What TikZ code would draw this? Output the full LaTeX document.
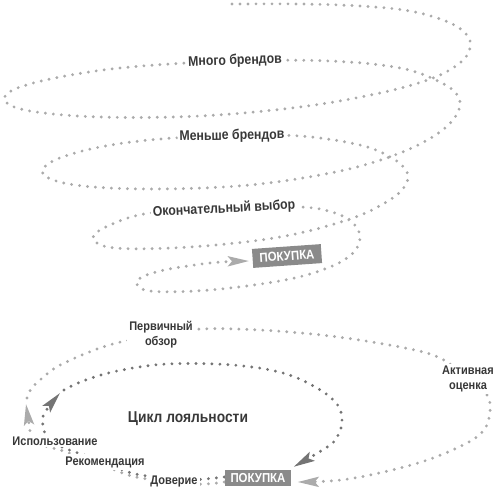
\documentclass[tikz,border=0pt]{standalone}
\usepackage{fontspec}
\setmainfont{Liberation Sans}[FakeStretch=0.88]
\usetikzlibrary{arrows.meta}
\pgfdeclarelayer{bg}
\pgfsetlayers{bg,main}
\definecolor{lightdot}{HTML}{ABABAB}
\definecolor{darkdot}{HTML}{747474}
\definecolor{txt}{HTML}{383838}
\definecolor{boxgray}{HTML}{8A8A8A}
\tikzset{
  dots/.style={line width=3.2pt, line cap=round, dash pattern=on 0pt off 8pt},
  tipL/.style={-{Stealth[length=21pt,width=10pt,inset=4pt,fill=lightdot,color=lightdot]}},
  tipD/.style={-{Stealth[length=21pt,width=10pt,inset=4pt,fill=darkdot,color=darkdot]}},
  lbl/.style={fill=white, inner sep=2pt, text=txt, align=center,
    font=\bfseries\fontsize{12.5}{15}\selectfont},
  biglbl/.style={lbl, font=\bfseries\fontsize{14}{16}\selectfont},
  buy/.style={fill=boxgray, text=white, inner xsep=6pt, inner ysep=0pt,
    minimum height=16pt, font=\bfseries\fontsize{13}{14}\selectfont},
}
\begin{document}
\begin{tikzpicture}[x=1pt,y=-1pt]
\useasboundingbox (0,0) rectangle (500,491);
% top spiral labels
\node[biglbl, rotate=2] (m1) at (235,61) {Много брендов};
\node[biglbl, rotate=1] (m2) at (232,136) {Меньше брендов};
\node[biglbl, rotate=3] (m3) at (224,209) {Окончательный выбор};
\node[buy, rotate=4, minimum height=19pt, inner xsep=7pt] (p1) at (287,256) {ПОКУПКА};
% bottom labels
\node[lbl] (ob) at (161,335) {Первичный\\обзор};
\node[lbl] (ak) at (468,379) {Активная\\оценка};
\node[lbl] (is) at (55,441) {Использование};
\node[lbl] (rk) at (105,462) {Рекомендация};
\node[lbl] (dv) at (174,481) {Доверие};
\node[text=txt, font=\bfseries\fontsize{15.7}{18}\selectfont] (cl) at (188,419) {Цикл лояльности};
\node[buy] (p2) at (258,478) {ПОКУПКА};
\coordinate (s0) at (232,4);
\coordinate (t1) at (249,261);
\begin{pgfonlayer}{bg}
\draw[dots, lightdot, tipL] plot[smooth, tension=0.6] coordinates {
 (s0) (300,4) (360,6) (410,11) (448,22) (467,35) (470,48) (461,62) (433,78)
 (380,93) (300,107) (200,116) (100,117) (30,111) (5,101) (15,89) (60,77) (130,67)
 (m1.center) (330,61) (400,68) (440,82) (458,96) (458,112) (440,132) (400,153)
 (340,171) (250,185) (150,189) (75,185) (43,174) (55,160) (100,147) (160,139)
 (m2.center) (300,136) (360,145) (392,158) (407,172) (405,186) (388,201) (350,219)
 (280,237) (190,247) (115,248) (93,238) (110,225) (150,213)
 (m3.center) (300,207) (335,213) (354,224) (360,238) (353,253) (330,267) (285,280)
 (210,290) (150,291) (137,281) (160,271) (210,263) (t1)};
% dark loyalty loop
\draw[dots, darkdot, tipD] plot[smooth, tension=0.6] coordinates {
 ([yshift=1pt]p2.west) (205,479) (dv.center) (147,476) (128,472) (rk.center)
 (78,453) (62,447) (48,438) (43,426) (44,414) (60,393)};
\draw[dots, darkdot, tipD] plot[smooth, tension=0.6] coordinates {
 (64,390) (83,381) (117,371) (167,364) (233,365) (283,373) (317,388) (337,404)
 (342,420) (339,433) (330,445) ([shift={(2pt,3pt)}]p2.north east)};
% light outer loop
\draw[dots, lightdot, tipL] plot[smooth, tension=0.6] coordinates {
 ([yshift=-4pt]p2.west) (205,484) (175,484) (147,479) (128,475) (105,466)
 (78,456) (60,450) (40,444) (31,434) (29,424) (26,404)};
\draw[dots, lightdot, tipL] plot[smooth, tension=0.6] coordinates {
 (27,398) (31,389) (40,380) (55,368) (75,358) (100,348) (125,341) (ob.center)
 (200,329) (260,330) (330,336) (400,347) (440,358) (ak.center) (487,395)
 (490,412) (484,430) (467,443) (433,458) (400,468) (360,477) (330,481)
 ([xshift=6pt,yshift=-4pt]p2.east)};
\end{pgfonlayer}
\end{tikzpicture}
\end{document}
